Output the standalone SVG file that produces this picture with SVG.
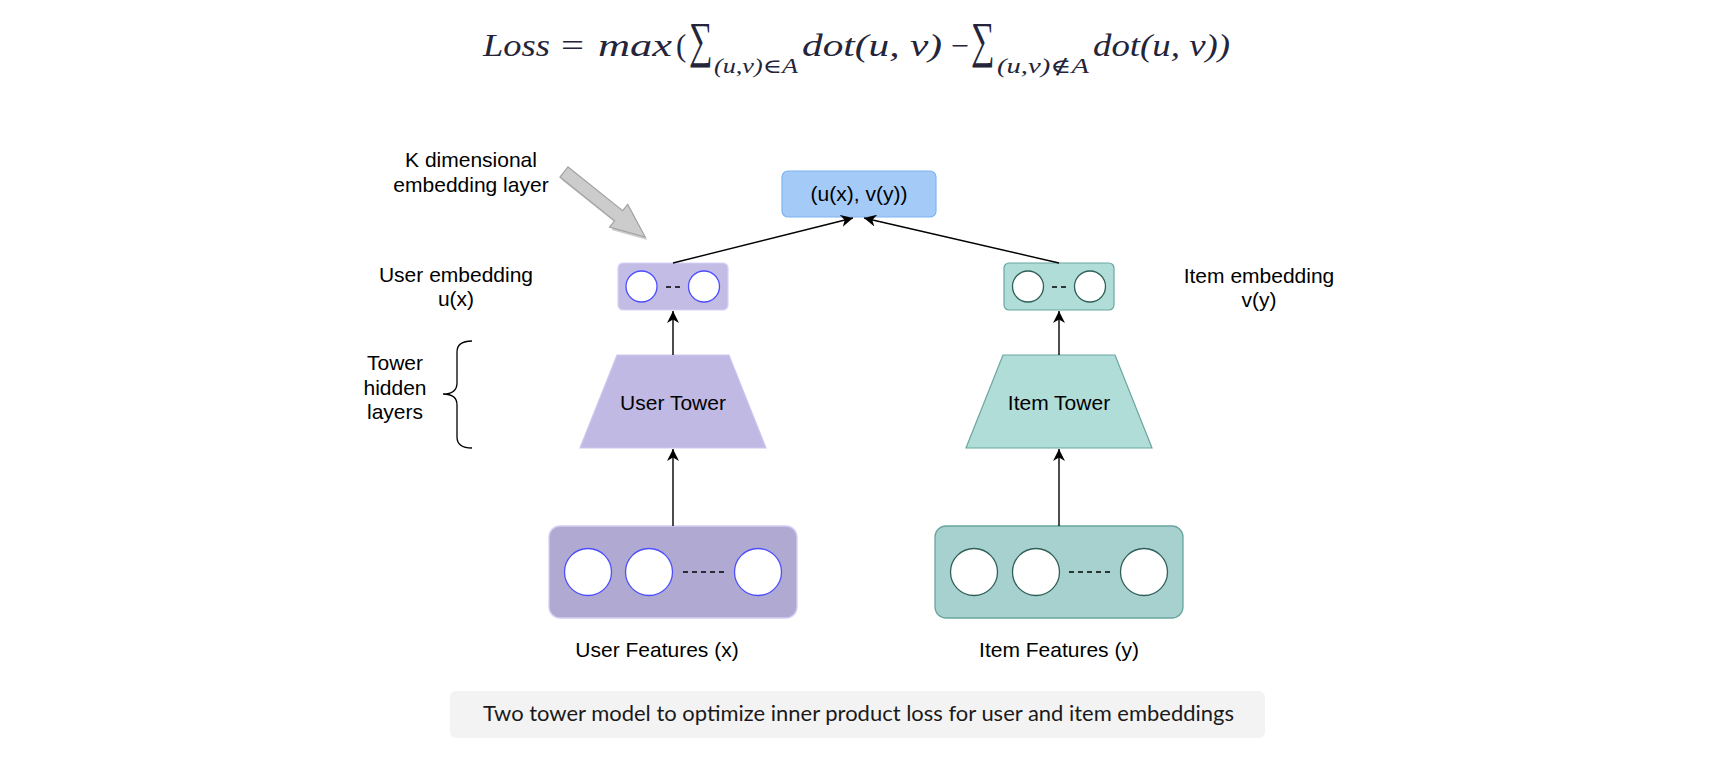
<svg xmlns="http://www.w3.org/2000/svg" width="1734" height="758" viewBox="0 0 1734 758">
<style>
.lbl{font-family:"Liberation Sans",Arial,sans-serif;font-size:21px;fill:#000;text-anchor:middle}
.math{font-family:"Liberation Serif","DejaVu Serif",serif;fill:#24243a}
.it{font-style:italic}
.conn{stroke:#000;stroke-width:1.4;fill:none;marker-end:url(#ah)}
.wc-u{fill:#fff;stroke:#4d4dff;stroke-width:1.3}
.wc-i{fill:#fff;stroke:#2f5f56;stroke-width:1.3}
.dash{stroke:#000;stroke-width:1.4;stroke-dasharray:5,4}
</style>
<defs>
<marker id="ah" markerUnits="userSpaceOnUse" markerWidth="14" markerHeight="12" refX="12" refY="6" orient="auto">
<path d="M0,0 L12,6 L0,12 L3.5,6 Z" fill="#000"/>
</marker>
</defs>
<rect width="1734" height="758" fill="#fff"/>

<g id="formula">
<text class="math it" x="483" y="56" font-size="31" textLength="67" lengthAdjust="spacingAndGlyphs">Loss</text>
<text class="math" x="561" y="56" font-size="31" textLength="23" lengthAdjust="spacingAndGlyphs">=</text>
<text class="math it" x="598" y="56" font-size="31" textLength="74" lengthAdjust="spacingAndGlyphs">max</text>
<text class="math" x="676" y="56" font-size="31">(</text>
<text class="math" transform="translate(689,57) scale(0.66,1)" x="0" y="0" font-size="50">∑</text>
<text class="math it" x="714" y="73" font-size="20" textLength="84" lengthAdjust="spacingAndGlyphs">(u,v)∈A</text>
<text class="math it" x="802" y="56" font-size="31" textLength="140" lengthAdjust="spacingAndGlyphs">dot(u, v)</text>
<text class="math" x="951" y="56" font-size="31" textLength="18" lengthAdjust="spacingAndGlyphs">−</text>
<text class="math" transform="translate(971,57) scale(0.66,1)" x="0" y="0" font-size="50">∑</text>
<text class="math it" x="997" y="73" font-size="20" textLength="92" lengthAdjust="spacingAndGlyphs">(u,v)∉A</text>
<text class="math it" x="1093" y="56" font-size="31" textLength="137" lengthAdjust="spacingAndGlyphs">dot(u, v))</text>
</g>

<g id="k-label">
<text class="lbl" x="471" y="167">K dimensional</text>
<text class="lbl" x="471" y="192">embedding layer</text>
</g>

<g id="big-arrow">
<polygon transform="translate(566,175) rotate(38.7)" points="0,-6.5 70,-6.5 70,-14.5 104,0 70,14.5 70,6.5 0,6.5" fill="#b8b8b8" opacity="0.7"/>
<polygon transform="translate(564,172) rotate(38.7)" points="0,-6.5 70,-6.5 70,-14.5 104,0 70,14.5 70,6.5 0,6.5" fill="#cccccc" stroke="#a3a3a3" stroke-width="1.2"/>
</g>

<g id="output">
<rect x="782" y="171" width="154" height="46" rx="6" fill="#a4cbf7" stroke="#7fb4f2" stroke-width="1.2"/>
<text class="lbl" x="859" y="201">(u(x), v(y))</text>
</g>

<g id="user-embedding">
<rect x="618" y="263" width="110" height="47" rx="5" fill="#c3bde6" stroke="#d6d1f3" stroke-width="1.2"/>
<circle class="wc-u" cx="641.5" cy="286.5" r="15.5"/>
<circle class="wc-u" cx="704" cy="286.5" r="15.5"/>
<line class="dash" x1="666" y1="287" x2="684" y2="287"/>
</g>
<g id="user-embedding-label">
<text class="lbl" x="456" y="282">User embedding</text>
<text class="lbl" x="456" y="306">u(x)</text>
</g>

<g id="item-embedding">
<rect x="1004" y="263" width="110" height="47" rx="5" fill="#b0ddd8" stroke="#6aa69f" stroke-width="1.2"/>
<circle class="wc-i" cx="1028" cy="286.5" r="15.5"/>
<circle class="wc-i" cx="1090" cy="286.5" r="15.5"/>
<line class="dash" x1="1052" y1="287" x2="1066" y2="287"/>
</g>
<g id="item-embedding-label">
<text class="lbl" x="1259" y="283">Item embedding</text>
<text class="lbl" x="1259" y="307">v(y)</text>
</g>

<g id="brace-label">
<text class="lbl" x="395" y="370">Tower</text>
<text class="lbl" x="395" y="395">hidden</text>
<text class="lbl" x="395" y="419">layers</text>
<path d="M472,341 Q457,341 457,352 L457,383 Q457,394 443,394 Q457,394 457,405 L457,437 Q457,448 472,448" fill="none" stroke="#000" stroke-width="1.3"/>
</g>

<g id="user-tower">
<polygon points="617,355 729,355 766,448 580,448" fill="#c0b9e3" stroke="#cdc7f0" stroke-width="1.2"/>
<text class="lbl" x="673" y="410">User Tower</text>
</g>

<g id="item-tower">
<polygon points="1003,355 1115,355 1152,448 966,448" fill="#b0ddd8" stroke="#6aa69f" stroke-width="1.2"/>
<text class="lbl" x="1059" y="410">Item Tower</text>
</g>

<g id="user-features">
<rect x="549" y="526" width="248" height="92" rx="11" fill="#b0aad3" stroke="#d4cef5" stroke-width="1.3"/>
<circle class="wc-u" cx="588" cy="572" r="23.5"/>
<circle class="wc-u" cx="649" cy="572" r="23.5"/>
<circle class="wc-u" cx="758" cy="572" r="23.5"/>
<line class="dash" x1="683" y1="572" x2="726" y2="572"/>
<text class="lbl" x="657" y="657">User Features (x)</text>
</g>

<g id="item-features">
<rect x="935" y="526" width="248" height="92" rx="11" fill="#a6d1cf" stroke="#6aa69f" stroke-width="1.3"/>
<circle class="wc-i" cx="974" cy="572" r="23.5"/>
<circle class="wc-i" cx="1036" cy="572" r="23.5"/>
<circle class="wc-i" cx="1144" cy="572" r="23.5"/>
<line class="dash" x1="1069" y1="572" x2="1112" y2="572"/>
<text class="lbl" x="1059" y="657">Item Features (y)</text>
</g>

<g id="connectors">
<line class="conn" x1="673" y1="263" x2="853" y2="218"/>
<line class="conn" x1="1059" y1="263" x2="864" y2="218"/>
<line class="conn" x1="673" y1="355" x2="673" y2="311"/>
<line class="conn" x1="1059" y1="355" x2="1059" y2="311"/>
<line class="conn" x1="673" y1="526" x2="673" y2="449"/>
<line class="conn" x1="1059" y1="526" x2="1059" y2="449"/>
</g>

<g id="caption">
<rect x="450" y="691" width="815" height="47" rx="6" fill="#f3f3f3"/>
<text x="483" y="721" font-family="Lato,'Open Sans',sans-serif" font-size="21" fill="#1a1a1a" textLength="751" lengthAdjust="spacingAndGlyphs">Two tower model to optimize inner product loss for user and item embeddings</text>
</g>
</svg>
